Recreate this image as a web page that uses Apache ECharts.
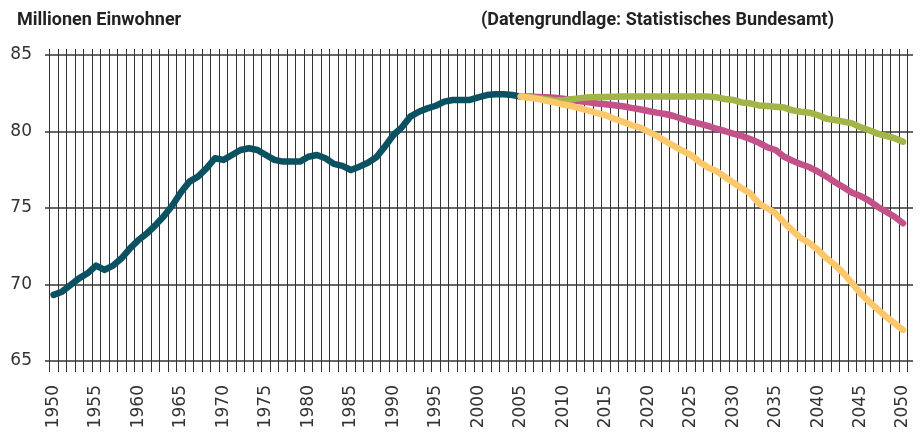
<!DOCTYPE html>
<html>
<head>
<meta charset="utf-8">
<script src="https://cdn.jsdelivr.net/npm/echarts@6.0.0/dist/echarts.min.js"></script>
<style>
html,body{margin:0;padding:0;background:#fff;}
#chart{width:924px;height:433px;}
</style>
</head>
<body>
<div id="chart"></div>
<script>
// Categories: years 1950..2050
var years = [];
for (var y = 1950; y <= 2050; y++) { years.push(String(y)); }

var yTicks = [65, 70, 75, 80, 85];

// Historical population 1950..2005 (millions)
var historical = [
  69.34, 69.55, 69.99, 70.42, 70.75, 71.25, 70.97, 71.25, 71.73, 72.38,
  72.93, 73.36, 73.90, 74.50, 75.20, 76.05, 76.74, 77.07, 77.61, 78.27,
  78.16, 78.48, 78.81, 78.92, 78.81, 78.48, 78.16, 78.05, 78.05, 78.05,
  78.37, 78.48, 78.27, 77.90, 77.77, 77.50, 77.72, 77.98, 78.33, 79.03,
  79.79, 80.29, 80.99, 81.31, 81.53, 81.70, 81.97, 82.08, 82.08, 82.08,
  82.25, 82.40, 82.45, 82.45, 82.40, 82.30
];

// Projections 2005..2050
var projHigh = [
  82.30, 82.25, 82.20, 82.12, 82.05, 82.05, 82.12, 82.20, 82.25, 82.27,
  82.28, 82.29, 82.30, 82.30, 82.30, 82.30, 82.30, 82.30, 82.30, 82.30,
  82.30, 82.30, 82.30, 82.26, 82.14, 82.08, 81.92, 81.86, 81.72, 81.69,
  81.64, 81.58, 81.40, 81.31, 81.25, 81.08, 80.85, 80.77, 80.66, 80.55,
  80.30, 80.10, 79.88, 79.73, 79.58, 79.35
];
var projMid = [
  82.30, 82.30, 82.28, 82.26, 82.22, 82.16, 82.08, 82.00, 81.93, 81.85,
  81.80, 81.74, 81.67, 81.56, 81.47, 81.36, 81.25, 81.16, 81.03, 80.84,
  80.66, 80.53, 80.38, 80.20, 80.05, 79.88, 79.73, 79.53, 79.29, 78.99,
  78.81, 78.37, 78.11, 77.88, 77.68, 77.39, 77.07, 76.70, 76.37, 76.02,
  75.80, 75.50, 75.10, 74.78, 74.45, 74.02
];
var projLow = [
  82.30, 82.22, 82.15, 82.03, 81.92, 81.78, 81.68, 81.53, 81.38, 81.22,
  81.08, 80.85, 80.66, 80.44, 80.29, 80.01, 79.73, 79.40, 79.08, 78.77,
  78.49, 78.05, 77.68, 77.44, 77.07, 76.68, 76.31, 75.98, 75.33, 75.00,
  74.67, 74.06, 73.54, 73.04, 72.71, 72.27, 71.73, 71.29, 70.75, 70.10,
  69.44, 68.90, 68.40, 67.92, 67.48, 67.04
];

function padFront(arr, startYear) {
  var out = [];
  for (var i = 0; i < years.length; i++) {
    var yr = 1950 + i;
    var idx = yr - startYear;
    out.push(idx >= 0 && idx < arr.length ? arr[idx] : null);
  }
  return out;
}

var labelFont = 'DejaVu Sans';
var titleFont = 'Roboto, sans-serif';
var chart = echarts.init(document.getElementById('chart'), null, {renderer: 'canvas'});

function lineSeries(name, data, color) {
  return {
    name: name, type: 'line', xAxisIndex: 1, yAxisIndex: 1,
    data: data, showSymbol: false, symbol: 'none', connectNulls: false,
    lineStyle: {color: color, width: 6.5, cap: 'round', join: 'round'},
    animation: false
  };
}

chart.setOption({
  animation: false,
  backgroundColor: '#ffffff',
  title: [
    {text: 'Millionen Einwohner', left: 12, top: 6,
     textStyle: {fontFamily: titleFont, fontWeight: 'bold', fontSize: 18, color: '#222'}},
    {text: '(Datengrundlage: Statistisches Bundesamt)', left: 476, top: 6,
     textStyle: {fontFamily: titleFont, fontWeight: 'bold', fontSize: 18, color: '#222'}}
  ],
  grid: [
    {left: 45, right: 11, top: 55, bottom: 72},
    {left: 49.3, right: 16.7, top: 49, bottom: 61}
  ],
  xAxis: [
    {gridIndex: 0, type: 'value', min: 0, max: 1, show: false},
    {gridIndex: 1, type: 'category', data: years, boundaryGap: true,
     axisLine: {show: false}, axisTick: {show: false},
     splitLine: {show: true, interval: 0, lineStyle: {color: '#333', width: 1}},
     axisLabel: {interval: 4, rotate: 90, margin: 13, fontFamily: labelFont, fontSize: 17, color: '#333'}}
  ],
  yAxis: [
    {gridIndex: 0, type: 'value', min: yTicks[0], max: yTicks[yTicks.length - 1], interval: 5,
     axisLine: {show: false}, axisTick: {show: false},
     splitLine: {show: true, lineStyle: {color: '#333', width: 1.5}},
     axisLabel: {margin: 13, fontFamily: labelFont, fontSize: 17, color: '#333'}},
    {gridIndex: 1, type: 'value', min: 64.30, max: 85.41, show: false}
  ],
  series: [
    lineSeries('Bevölkerung', padFront(historical, 1950), '#0a5262'),
    lineSeries('Variante mittel', padFront(projMid, 2005), '#c4528a'),
    lineSeries('Variante hoch', padFront(projHigh, 2005), '#a2b548'),
    lineSeries('Variante niedrig', padFront(projLow, 2005), '#fdc86c')
  ]
});
</script>
</body>
</html>
